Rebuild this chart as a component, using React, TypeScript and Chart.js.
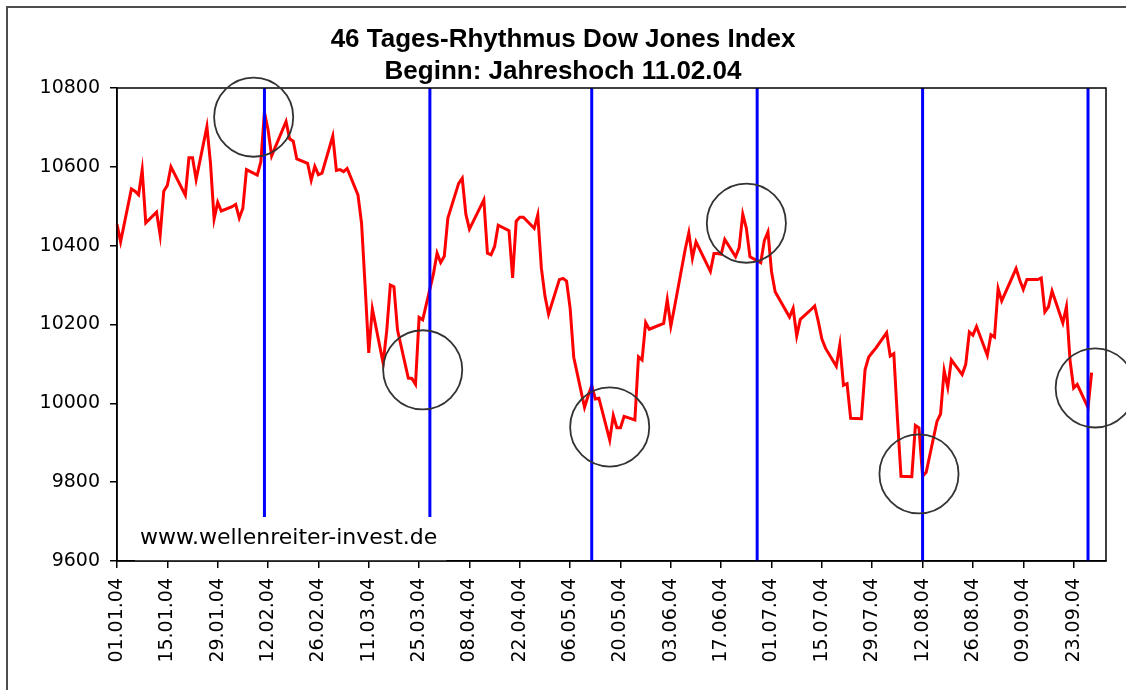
import React, { useEffect, useRef } from 'react';
import { Chart, registerables } from 'chart.js';

Chart.register(...registerables);

// ---------- texts ----------
const TITLE_LINES = ['46 Tages-Rhythmus Dow Jones Index', 'Beginn: Jahreshoch 11.02.04'];
const WATERMARK = 'www.wellenreiter-invest.de';

// ---------- axis ----------
const YEAR = '04';
const MONTH_LENGTHS = [31, 29, 31, 30, 31, 30, 31, 31, 30, 2]; // Jan .. 02 Oct 2004
const LABEL_EVERY = 14;
const Y_MIN = 9600;
const Y_MAX = 10800;
const Y_STEP = 200;

// ---------- Dow Jones closes per month: [day, close] ----------
const jan = [[1, 10454], [2, 10410], [5, 10544], [6, 10538], [7, 10529], [8, 10592], [9, 10458], [12, 10485], [13, 10427], [14, 10538], [15, 10553], [16, 10600], [20, 10528], [21, 10623], [22, 10623], [23, 10568], [26, 10702], [27, 10609], [28, 10468], [29, 10510], [30, 10488]];
const feb = [[2, 10499], [3, 10505], [4, 10470], [5, 10495], [6, 10593], [9, 10579], [10, 10613], [11, 10738], [12, 10694], [13, 10628], [17, 10715], [18, 10671], [19, 10665], [20, 10620], [23, 10609], [24, 10566], [25, 10601], [26, 10580], [27, 10584]];
const mar = [[1, 10678], [2, 10591], [3, 10593], [4, 10588], [5, 10596], [8, 10529], [9, 10457], [10, 10296], [11, 10128], [12, 10240], [15, 10102], [16, 10184], [17, 10300], [18, 10296], [19, 10186], [22, 10064], [23, 10063], [24, 10048], [25, 10218], [26, 10212], [29, 10329], [30, 10381], [31, 10357]];
const apr = [[1, 10373], [2, 10470], [5, 10558], [6, 10571], [7, 10480], [8, 10442], [12, 10516], [13, 10381], [14, 10377], [15, 10398], [16, 10452], [19, 10438], [20, 10318], [21, 10462], [22, 10472], [23, 10472], [26, 10444], [27, 10478], [28, 10343], [29, 10272], [30, 10226]];
const may = [[3, 10314], [4, 10317], [5, 10310], [6, 10241], [7, 10117], [10, 9990], [11, 10019], [12, 10045], [13, 10011], [14, 10013], [17, 9907], [18, 9969], [19, 9938], [20, 9938], [21, 9967], [24, 9958], [25, 10118], [26, 10110], [27, 10205], [28, 10188]];
const jun = [[1, 10203], [2, 10263], [3, 10196], [4, 10243], [7, 10391], [8, 10433], [9, 10368], [10, 10410], [14, 10335], [15, 10380], [16, 10380], [17, 10378], [18, 10416], [21, 10372], [22, 10395], [23, 10480], [24, 10444], [25, 10372], [28, 10357], [29, 10413], [30, 10435]];
const jul = [[1, 10334], [2, 10283], [6, 10219], [7, 10241], [8, 10171], [9, 10213], [12, 10238], [13, 10247], [14, 10208], [15, 10163], [16, 10140], [19, 10094], [20, 10149], [21, 10046], [22, 10050], [23, 9962], [26, 9961], [27, 10085], [28, 10117], [29, 10129], [30, 10140]];
const aug = [[2, 10179], [3, 10120], [4, 10126], [5, 9963], [6, 9815], [9, 9814], [10, 9944], [11, 9938], [12, 9815], [13, 9825], [16, 9954], [17, 9973], [18, 10083], [19, 10041], [20, 10110], [23, 10073], [24, 10099], [25, 10181], [26, 10173], [27, 10195], [30, 10122], [31, 10174]];
const sep = [[1, 10168], [2, 10291], [3, 10260], [7, 10342], [8, 10313], [9, 10289], [10, 10314], [13, 10314], [14, 10318], [15, 10232], [16, 10245], [17, 10285], [20, 10204], [21, 10245], [22, 10109], [23, 10039], [24, 10048], [27, 9989], [28, 10078]];
const closesByMonth = [jan, feb, mar, apr, may, jun, jul, aug, sep];

// ---------- 46-day rhythm lines and marked turning points ----------
const cycleDates = ['11.02.04', '28.03.04', '12.05.04', '27.06.04', '12.08.04', '27.09.04'];
const circleDates = ['08.02.04', '26.03.04', '17.05.04', '24.06.04', '11.08.04', '29.09.04'];
const circleValues = [10726, 10085, 9940, 10457, 9821, 10039];
const CIRCLE_RADIUS_DAYS = 11;

// ---------- build table ----------
const pad = (n: number) => (n < 10 ? '0' + n : '' + n);
const labels: string[] = [];
MONTH_LENGTHS.forEach((len, m) => {
  for (let d = 1; d <= len; d++) labels.push(`${pad(d)}.${pad(m + 1)}.${YEAR}`);
});
const series: (number | null)[] = labels.map(() => null);
closesByMonth.forEach((rows, m) => {
  rows.forEach(([d, v]) => {
    series[labels.indexOf(`${pad(d)}.${pad(m + 1)}.${YEAR}`)] = v;
  });
});

const FONT = '"DejaVu Sans", "Liberation Sans", Arial, sans-serif';
const TITLE_FONT = '"Liberation Sans", Arial, sans-serif';

const decorations = {
  id: 'decorations',
  beforeDraw(chart: any) {
    const ctx = chart.ctx;
    ctx.save();
    ctx.fillStyle = '#ffffff';
    ctx.fillRect(0, 0, chart.width, chart.height);
    ctx.strokeStyle = '#4d4d4d';
    ctx.lineWidth = 2;
    ctx.strokeRect(7, 7, chart.width + 40, chart.height + 40);
    ctx.restore();
  },
  afterDatasetsDraw(chart: any) {
    const ctx = chart.ctx;
    const a = chart.chartArea;
    const xs = chart.scales.x;
    const ys = chart.scales.y;
    ctx.save();

    // cycle lines
    ctx.strokeStyle = '#0000ff';
    ctx.lineWidth = 3;
    cycleDates.forEach((d) => {
      const px = xs.getPixelForValue(labels.indexOf(d));
      ctx.beginPath();
      ctx.moveTo(px, a.top);
      ctx.lineTo(px, a.bottom);
      ctx.stroke();
    });

    // watermark box
    ctx.font = `22px ${FONT}`;
    const w = ctx.measureText(WATERMARK).width;
    ctx.fillStyle = '#ffffff';
    ctx.fillRect(a.left + 18, a.bottom - 44, w + 14, 44);
    ctx.fillStyle = '#000000';
    ctx.textBaseline = 'middle';
    ctx.textAlign = 'left';
    ctx.fillText(WATERMARK, a.left + 23, a.bottom - 23);

    // plot area frame
    ctx.strokeStyle = '#000000';
    ctx.lineWidth = 1.5;
    ctx.strokeRect(a.left, a.top, a.right - a.left, a.bottom - a.top);

    // circles
    const dayPx = xs.getPixelForValue(1) - xs.getPixelForValue(0);
    ctx.strokeStyle = '#333333';
    ctx.lineWidth = 1.8;
    circleDates.forEach((d, i) => {
      const cx = xs.getPixelForValue(labels.indexOf(d));
      const cy = ys.getPixelForValue(circleValues[i]);
      ctx.beginPath();
      ctx.arc(cx, cy, CIRCLE_RADIUS_DAYS * dayPx, 0, Math.PI * 2);
      ctx.stroke();
    });

    // title
    ctx.fillStyle = '#000000';
    ctx.font = `bold 26px ${TITLE_FONT}`;
    ctx.textAlign = 'center';
    ctx.textBaseline = 'middle';
    ctx.fillText(TITLE_LINES[0], chart.width / 2, 40);
    ctx.fillText(TITLE_LINES[1], chart.width / 2, 72);
    ctx.restore();
  },
};

export default function App() {
  const ref = useRef<HTMLCanvasElement>(null);
  useEffect(() => {
    if (!ref.current) return;
    const chart = new Chart(ref.current, {
      type: 'line',
      data: {
        labels,
        datasets: [
          {
            data: series,
            borderColor: '#ff0000',
            borderWidth: 3,
            pointRadius: 0,
            tension: 0,
            spanGaps: true,
            fill: false,
          },
        ],
      },
      options: {
        responsive: false,
        animation: false,
        devicePixelRatio: 1,
        layout: { padding: { top: 88, right: 20, left: 0, bottom: 0 } },
        plugins: {
          legend: { display: false },
          tooltip: { enabled: false },
          title: { display: false },
        },
        scales: {
          x: {
            type: 'category',
            offset: false,
            grid: { display: true, drawOnChartArea: false, drawTicks: true, tickLength: 7, color: '#000000', lineWidth: 1.5 },
            border: { display: true, color: '#000000', width: 1.5 },
            ticks: {
              autoSkip: false,
              maxRotation: 90,
              minRotation: 90,
              padding: 10,
              color: '#000000',
              font: { family: FONT, size: 19 },
              callback: function (this: any, value: any, index: number) {
                return index % LABEL_EVERY === 0 ? this.getLabelForValue(value) : null;
              },
            },
            afterFit(scale: any) {
              scale.height = 129;
            },
          },
          y: {
            min: Y_MIN,
            max: Y_MAX,
            grid: { display: true, drawOnChartArea: false, drawTicks: true, tickLength: 7, color: '#000000', lineWidth: 1.5 },
            border: { display: true, color: '#000000', width: 1.5 },
            ticks: {
              stepSize: Y_STEP,
              padding: 10,
              color: '#000000',
              font: { family: FONT, size: 19 },
              callback: (v: any) => String(v),
            },
            afterFit(scale: any) {
              scale.width = 117;
            },
          },
        },
      },
      plugins: [decorations],
    } as any);
    return () => chart.destroy();
  }, []);
  return (
    <div style={{ position: 'fixed', left: 0, top: 0, width: 1126, height: 690, background: '#fff' }}>
      <canvas ref={ref} width={1126} height={690} style={{ display: 'block', width: 1126, height: 690 }} />
    </div>
  );
}
